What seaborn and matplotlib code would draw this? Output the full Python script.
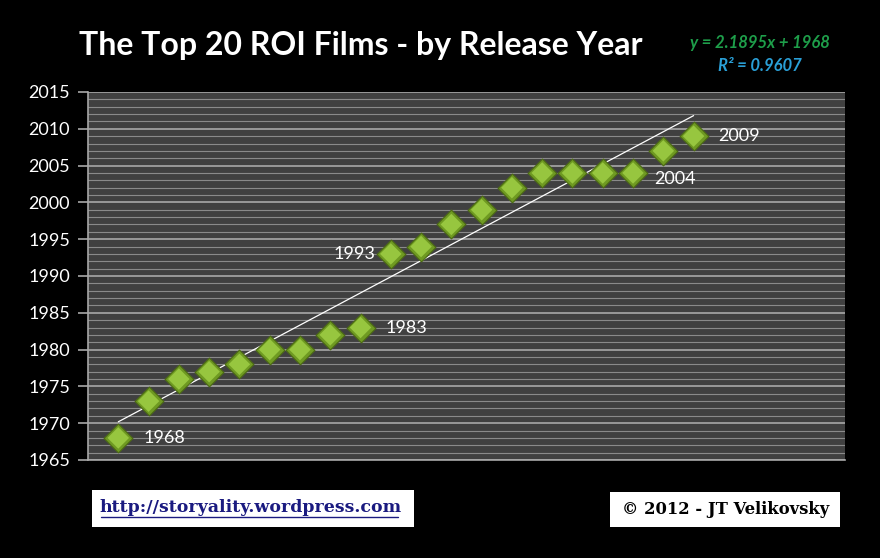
import matplotlib
matplotlib.use("Agg")
import matplotlib.pyplot as plt
import seaborn as sns
import pandas as pd
import numpy as np
from matplotlib.ticker import MultipleLocator
from matplotlib.patches import Rectangle

# ---- data ----
rank = list(range(1, 21))
release_year = [1968, 1973, 1976, 1977, 1978, 1980, 1980, 1982, 1983, 1993,
                1994, 1997, 1999, 2002, 2004, 2004, 2004, 2004, 2007, 2009]
trend_slope = 2.1895
trend_intercept = 1968
r_squared = 0.9607
# labelled points: (rank, text, side)
label_ranks = [1, 9, 10, 18, 20]
label_texts = ["1968", "1983", "1993", "2004", "2009"]
label_sides = ["right", "right", "left", "right_low", "right"]
y_ticks = [1965, 1970, 1975, 1980, 1985, 1990, 1995, 2000, 2005, 2010, 2015]

df = pd.DataFrame({"rank": rank, "year": release_year})

sns.set_style("dark")
plt.rcParams["font.family"] = ["Lato", "DejaVu Sans"]

fig = plt.figure(figsize=(8.8, 5.58), dpi=100, facecolor="black")
ax = fig.add_axes([88/880, 1-460/558, (845-88)/880, (460-92)/558])
ax.set_facecolor("#404040")

ax.set_xlim(0, 25)
ax.set_ylim(1965, 2015)
ax.set_yticks(y_ticks)
ax.yaxis.set_minor_locator(MultipleLocator(1))
ax.grid(False)
ax.grid(True, which="major", axis="y", color="#a8a8a8", lw=1.2)
ax.grid(True, which="minor", axis="y", color="#8a8a8a", lw=0.8)
ax.set_axisbelow(True)
ax.set_xticks([])
ax.tick_params(axis="y", which="major", colors="#a8a8a8", length=7, width=1.2,
               labelcolor="white", labelsize=13, pad=6, left=True)
ax.tick_params(axis="y", which="minor", length=0)
for s in ["top", "right"]:
    ax.spines[s].set_visible(False)
ax.spines["left"].set_color("#a8a8a8")
ax.spines["left"].set_linewidth(1.2)
ax.spines["bottom"].set_color("#a8a8a8")
ax.spines["bottom"].set_linewidth(1.2)

# trendline
xt = np.array([rank[0], rank[-1]])
ax.plot(xt, trend_slope * xt + trend_intercept, color="white", lw=0.9, zorder=2)

# markers
sns.scatterplot(data=df, x="rank", y="year", marker="D", s=215, color="#6f9a22",
                edgecolor="#4c6b14", linewidth=0.8, ax=ax, zorder=3, legend=False)
sns.scatterplot(data=df, x="rank", y="year", marker="D", s=120, color="#97c63f",
                edgecolor="none", ax=ax, zorder=4, legend=False)
ax.set_xlabel("")
ax.set_ylabel("")

for r, t, side in zip(label_ranks, label_texts, label_sides):
    y = release_year[r-1]
    if side == "right":
        ax.annotate(t, (r, y), xytext=(18, 0), textcoords="offset points",
                    ha="left", va="center", color="white", fontsize=13)
    elif side == "right_low":
        ax.annotate(t, (r, y), xytext=(15, -4), textcoords="offset points",
                    ha="left", va="center", color="white", fontsize=13)
    else:
        ax.annotate(t, (r, y), xytext=(-11, 0), textcoords="offset points",
                    ha="right", va="center", color="white", fontsize=13)

# title
fig.text(361/880, 1-45/558, "The Top 20 ROI Films - by Release Year", ha="center",
         va="center", color="white", fontsize=23, fontweight="bold")
fig.text(760/880, 1-43/558, f"y = {trend_slope}x + {trend_intercept}", ha="center",
         va="center", color="#1e9e4a", fontsize=12, fontweight="bold", style="italic")
fig.text(760/880, 1-66/558, f"R² = {r_squared}", ha="center", va="center",
         color="#2a9fd6", fontsize=12, fontweight="bold", style="italic")

# footer boxes
fig.patches.append(Rectangle((92/880, 1-527/558), (414-92)/880, 37/558,
                             transform=fig.transFigure, facecolor="white", edgecolor="none"))
fig.patches.append(Rectangle((610/880, 1-527/558), (840-610)/880, 35/558,
                             transform=fig.transFigure, facecolor="white", edgecolor="none"))
fig.text(250/880, 1-508/558, "http://storyality.wordpress.com", ha="center",
         va="center", color="#1a1a80", fontsize=12.5, fontweight="bold",
         family=["DejaVu Serif"])
# underline
fig.add_artist(plt.Line2D([101/880, 398/880], [1-517/558, 1-517/558],
                          transform=fig.transFigure, color="#1a1a80", lw=1))
fig.text(726/880, 1-510/558, "© 2012 - JT Velikovsky", ha="center", va="center",
         color="black", fontsize=11.8, fontweight="bold",
         family=["DejaVu Serif"])

fig.savefig("out.png", dpi=100, facecolor="black")
